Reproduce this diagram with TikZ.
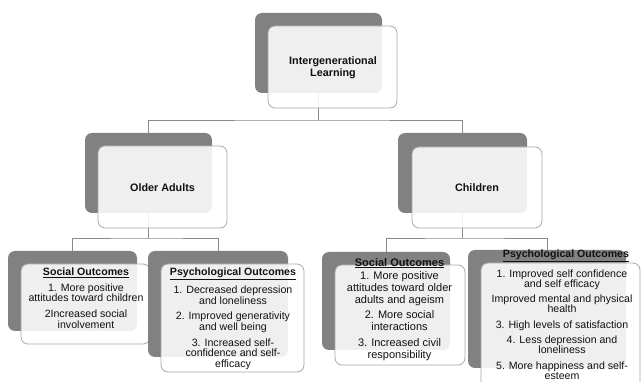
\documentclass[tikz,border=0pt]{standalone}
\usepackage{fontspec}
\setmainfont{Liberation Sans}
\definecolor{boxdark}{HTML}{818181}
\definecolor{edgegray}{HTML}{A8A8A8}
\definecolor{linegray}{HTML}{8A8A8A}
\definecolor{txt}{HTML}{111111}
\begin{document}
\begin{tikzpicture}[x=1pt,y=-1pt,
  darkbox/.style={fill=boxdark, draw=none, rounded corners=7pt, inner sep=0, outer sep=0},
  lightbox/.style={fill=white, fill opacity=0.88, draw=edgegray, draw opacity=1, line width=0.8pt, rounded corners=7pt, inner sep=0, outer sep=0},
  conn/.style={draw=linegray, line width=0.8pt},
  head/.style={font=\fontsize{10.8}{11.5}\selectfont\bfseries, align=center, text=txt, inner sep=0},
  body/.style={font=\fontsize{10.6}{10.6}\selectfont, align=center, inner sep=0, anchor=north, text=txt}]
\clip (0,0) rectangle (641,382);
\fill[white] (0,0) rectangle (641,382);
% dark boxes (positions first, for connectors)
\path (318.5,53) node[minimum width=127pt, minimum height=80pt, inner sep=0, outer sep=0] (topD) {};
\path (148.5,173) node[minimum width=127pt, minimum height=80pt, inner sep=0, outer sep=0] (oaD) {};
\path (462.5,173) node[minimum width=129pt, minimum height=80pt, inner sep=0, outer sep=0] (chD) {};
\path (72.5,291) node[minimum width=129pt, minimum height=80pt, inner sep=0, outer sep=0] (soLD) {};
\path (218,304) node[minimum width=140pt, minimum height=106pt, inner sep=0, outer sep=0] (poLD) {};
\path (386,301) node[minimum width=128pt, minimum height=98pt, inner sep=0, outer sep=0] (soCD) {};
\path (547,309) node[minimum width=158pt, minimum height=118pt, inner sep=0, outer sep=0] (poCD) {};
% connectors
\coordinate (j1) at (318.5,120);
\coordinate (j2) at (148.5,238);
\coordinate (j3) at (462.5,238);
\draw[conn] (topD.south) -- (j1);
\draw[conn] (oaD.north) |- (j1) -| (chD.north);
\draw[conn] (oaD.south) -- (j2);
\draw[conn] (soLD.north) |- (j2) -| (poLD.north);
\draw[conn] (chD.south) -- (j3);
\draw[conn] (soCD.north) |- (j3) -| (poCD.north);
% boxes
\node[darkbox, minimum width=127pt, minimum height=80pt] (topDk) at (topD) {};
\node[lightbox, minimum width=129pt, minimum height=82pt] (topW) at (332.5,67) {};
\node[darkbox, minimum width=127pt, minimum height=80pt] (oaDk) at (oaD) {};
\node[lightbox, minimum width=129pt, minimum height=82pt] (oaW) at (162.5,187) {};
\node[darkbox, minimum width=129pt, minimum height=80pt] (chDk) at (chD) {};
\node[lightbox, minimum width=130pt, minimum height=81pt] (chW) at (477,187.5) {};
\node[darkbox, minimum width=129pt, minimum height=80pt] (soLDk) at (soLD) {};
\node[lightbox, minimum width=129pt, minimum height=80pt] (soLW) at (85.5,304) {};
\node[darkbox, minimum width=140pt, minimum height=106pt] (poLDk) at (poLD) {};
\node[lightbox, minimum width=143pt, minimum height=108pt] (poLW) at (232.5,318) {};
\node[darkbox, minimum width=128pt, minimum height=98pt] (soCDk) at (soCD) {};
\node[lightbox, minimum width=130pt, minimum height=100pt] (soCW) at (400,315) {};
\node[darkbox, minimum width=158pt, minimum height=118pt] (poCDk) at (poCD) {};
\node[lightbox, minimum width=159pt, minimum height=132pt] (poCW) at (560.5,329) {};
% texts
\node[head] (tTop) at (333,67.5) {Intergenerational\\Learning};
\node[head] (tOA) at (162.5,187.5) {Older Adults};
\node[head] (tCh) at (477,187.5) {Children};
\node[body] (tSoL) at (86,267.5) {\underline{\textbf{Social Outcomes}}\\[5.2pt]
  1. More positive\\attitudes toward children\\[5.2pt]
  2Increased social\\involvement};
\node[body] (tPoL) at (233,267.5) {\underline{\textbf{Psychological Outcomes}}\\[5.2pt]
  1. Decreased depression\\and loneliness\\[5.2pt]
  2. Improved generativity\\and well being\\[5.2pt]
  3. Increased self-\\confidence and self-\\efficacy};
\node[body, font=\fontsize{11}{11.9}\selectfont] (tSoC) at (399.5,258) {\underline{\textbf{Social Outcomes}}\\[1.6pt]
  1. More positive\\attitudes toward older\\adults and ageism\\[3.6pt]
  2. More social\\interactions\\[3.6pt]
  3. Increased civil\\responsibility};
\node[body, font=\fontsize{10.6}{10.2}\selectfont] (tPoC) at (562,250) {\hspace*{8pt}\underline{\textbf{Psychological Outcomes}}\\[6.3pt]
  1. Improved self confidence\\and self efficacy\\[5pt]
  Improved mental and physical\\health\\[5.6pt]
  3. High levels of satisfaction\\[4.5pt]
  4. Less depression and\\loneliness\\[5.4pt]
  5. More happiness and self-\\esteem};
\end{tikzpicture}
\end{document}
